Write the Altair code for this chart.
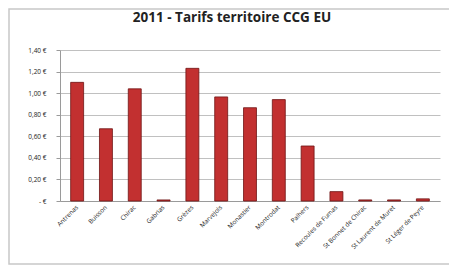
import altair as alt
import pandas as pd

communes = ["Antrenas", "Buisson", "Chirac", "Gabrias", "Grèzes", "Marvejols",
            "Monastier", "Montrodat", "Palhers", "Recoules de Fumas",
            "St Bonnet de Chirac", "St Laurent de Muret", "St Léger de Peyre"]
tarifs = [1.10, 0.67, 1.04, 0.01, 1.23, 0.965, 0.865, 0.94, 0.51, 0.087, 0.01, 0.01, 0.02]
y_ticks = [0, 0.2, 0.4, 0.6, 0.8, 1.0, 1.2, 1.4]
titre = "2011 - Tarifs territoire CCG EU"

df = pd.DataFrame({"commune": communes, "tarif": tarifs})

x_enc = alt.X("commune:N", sort=communes, title=None,
              scale=alt.Scale(paddingInner=0.55, paddingOuter=0.37),
              axis=alt.Axis(labelAngle=-45, labelAlign="right", labelBaseline="middle",
                            labelFontSize=6.3, labelColor="#222222", labelFont="Open Sans",
                            labelPadding=5, ticks=False, domainColor="#9a9a9a",
                            labelLimit=200))
y_enc = alt.Y("tarif:Q", title=None,
              scale=alt.Scale(domain=[0, 1.4], nice=False),
              axis=alt.Axis(values=y_ticks, gridColor="#b0b0b0", gridWidth=0.8,
                            domainColor="#9a9a9a", tickColor="#9a9a9a", tickSize=4,
                            labelFontSize=6.5, labelColor="#222222", labelFont="Open Sans",
                            labelPadding=10,
                            labelExpr="datum.value == 0 ? '-   €' : replace(format(datum.value, '.2f'), '.', ',') + ' €'"))

bars = alt.Chart(df).mark_bar(color="#c23030", stroke="#6e1414", strokeWidth=0.8).encode(
    x=x_enc, y=y_enc)

frame = alt.Chart(pd.DataFrame({"a": [0]})).mark_rect(
    fill=None, stroke="#c8c8c8", strokeWidth=1.5).encode(
    x=alt.value(-51), x2=alt.value(390), y=alt.value(-41), y2=alt.value(214))

title = alt.Chart(pd.DataFrame({"t": [titre]})).mark_text(
    font="Open Sans", fontWeight="bold", fontSize=13.5, color="#222222",
    align="center", baseline="middle").encode(
    text="t:N", x=alt.value(172), y=alt.value(-32))

chart = alt.layer(bars, title, frame).properties(
    width=380, height=151,
    autosize=alt.AutoSizeParams(type="none"),
    padding={"left": 52, "top": 42, "right": 9, "bottom": 65},
    background="white",
).configure_view(stroke=None)

chart.save("out.html", embed_options={"renderer": "svg", "actions": False})
